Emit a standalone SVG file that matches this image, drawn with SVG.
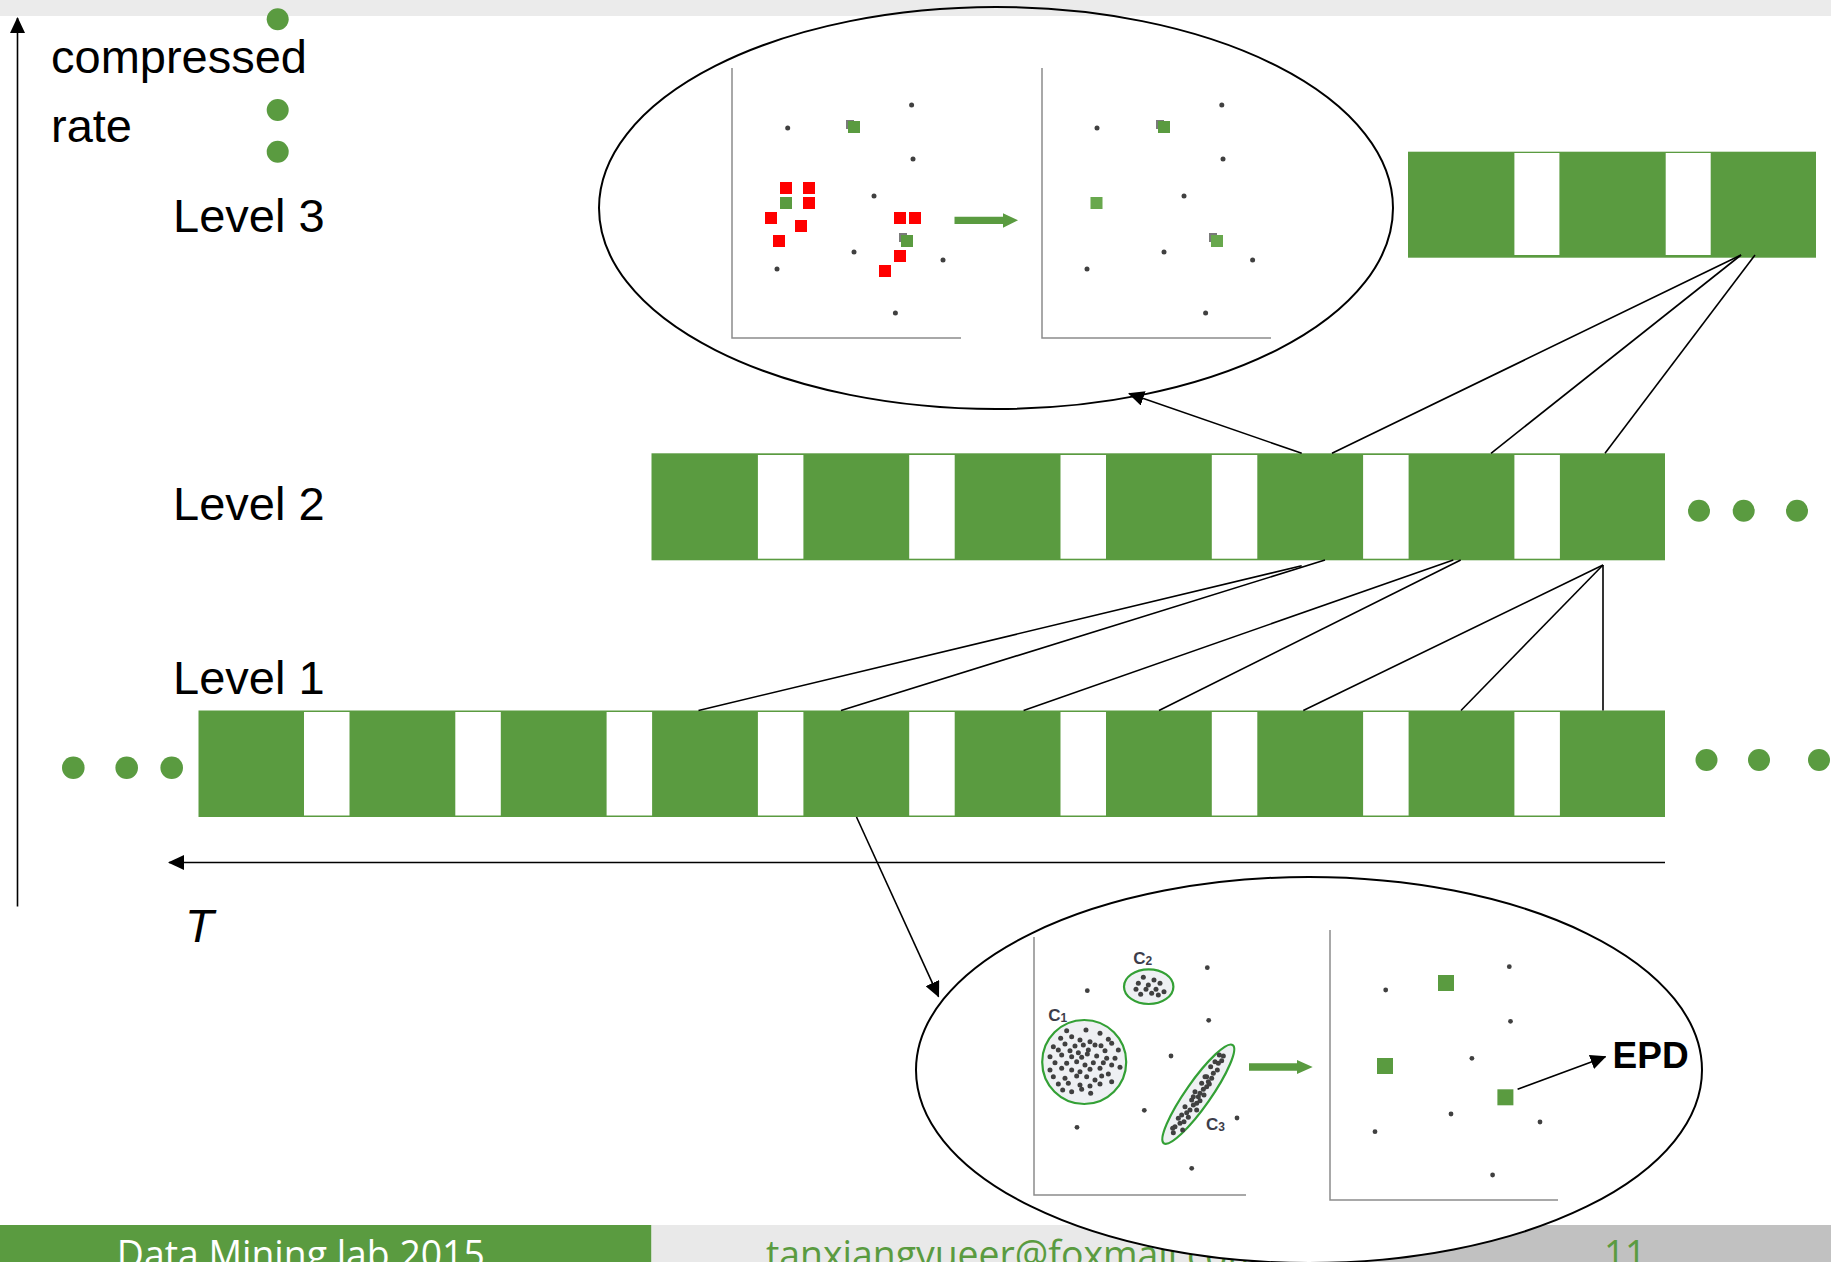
<svg xmlns="http://www.w3.org/2000/svg" width="1831" height="1262" viewBox="0 0 1831 1262">
<defs>
<style>
.lbl{font-family:"Liberation Sans",Arial,sans-serif;font-size:47px;fill:#000}
.bar{fill:#5a9b40}
.gap{fill:#fff}
.gdot{fill:#5a9b40}
.ln{stroke:#000;stroke-width:1.6;fill:none}
.ax{stroke:#8c8c8c;stroke-width:1.5;fill:none}
.d{fill:#404040}
.red{fill:#ff0000}
.gsq{fill:#5a9b40}
.lgsq{fill:#68a84d}
.gray{fill:#7a7a7a}
.oval{stroke:#000;stroke-width:2}
.foot{font-family:"Open Sans","Liberation Sans",sans-serif;font-size:38px}
.cl{font-family:"Liberation Sans",Arial,sans-serif;font-size:17px;font-weight:bold;fill:#3d3d4a}
.clu{fill:#eef0f3;stroke:#33a035;stroke-width:2.2}
</style>
<marker id="ah" viewBox="0 0 16 15" refX="15" refY="7.5" markerWidth="16" markerHeight="15" markerUnits="userSpaceOnUse" orient="auto"><path d="M0,0 L16,7.5 L0,15 z" fill="#000"/></marker>
</defs>
<rect x="0" y="0" width="1831" height="1262" fill="#fff"/>
<rect x="0" y="0" width="1831" height="16" fill="#ebebeb"/>

<g id="footer">
<rect x="0" y="1225" width="651.5" height="37" fill="#5a9b40"/>
<rect x="651.5" y="1225" width="660" height="37" fill="#e9e9e9"/>
<rect x="1311.5" y="1225" width="519.5" height="37" fill="#c1c1c1"/>
<text class="foot" x="116.8" y="1268" fill="#fff" textLength="368" lengthAdjust="spacingAndGlyphs">Data Mining lab 2015</text>
<text class="foot" x="766" y="1268" fill="#5a9b40" textLength="496" lengthAdjust="spacingAndGlyphs">tanxiangyueer@foxmail.com</text>
<text class="foot" x="1604" y="1268" fill="#5a9b40" textLength="42" lengthAdjust="spacingAndGlyphs">11</text>
</g>

<g id="axis-y">
<line class="ln" x1="17.5" y1="906.5" x2="17.5" y2="18" stroke-width="2" marker-end="url(#ah)"/>
<text class="lbl" x="51" y="72.7">compressed</text>
<text class="lbl" x="51" y="141.5">rate</text>
<circle class="gdot" cx="277.7" cy="19.3" r="11"/>
<circle class="gdot" cx="277.7" cy="110" r="11"/>
<circle class="gdot" cx="277.7" cy="151.7" r="11"/>
</g>

<g id="axis-t">
<line class="ln" x1="1665" y1="862.5" x2="169" y2="862.5" stroke-width="2" marker-end="url(#ah)"/>
<text class="lbl" x="185" y="941.7" font-style="italic">T</text>
</g>

<g id="level3">
<text class="lbl" x="173" y="232">Level 3</text>
<rect class="bar" x="1408" y="151.7" width="408" height="106"/>
<rect class="gap" x="1514.4" y="153" width="45" height="102"/>
<rect class="gap" x="1665.7" y="153" width="45" height="102"/>
</g>

<g id="level2">
<text class="lbl" x="173" y="520">Level 2</text>
<rect class="bar" x="651.5" y="453.3" width="1013.5" height="107"/>
<rect class="gap" x="757.9" y="455" width="45.5" height="103.7"/>
<rect class="gap" x="909.2" y="455" width="45.5" height="103.7"/>
<rect class="gap" x="1060.5" y="455" width="45.5" height="103.7"/>
<rect class="gap" x="1211.8" y="455" width="45.5" height="103.7"/>
<rect class="gap" x="1363.1" y="455" width="45.5" height="103.7"/>
<rect class="gap" x="1514.4" y="455" width="45.5" height="103.7"/>
<circle class="gdot" cx="1699" cy="510.7" r="11"/>
<circle class="gdot" cx="1743.7" cy="510.7" r="11"/>
<circle class="gdot" cx="1797" cy="510.7" r="11"/>
</g>

<g id="level1">
<text class="lbl" x="173" y="693.6">Level 1</text>
<rect class="bar" x="198.5" y="710.5" width="1466.5" height="106.5"/>
<rect class="gap" x="304" y="712" width="45.5" height="103.5"/>
<rect class="gap" x="455.3" y="712" width="45.5" height="103.5"/>
<rect class="gap" x="606.6" y="712" width="45.5" height="103.5"/>
<rect class="gap" x="757.9" y="712" width="45.5" height="103.5"/>
<rect class="gap" x="909.2" y="712" width="45.5" height="103.5"/>
<rect class="gap" x="1060.5" y="712" width="45.5" height="103.5"/>
<rect class="gap" x="1211.8" y="712" width="45.5" height="103.5"/>
<rect class="gap" x="1363.1" y="712" width="45.5" height="103.5"/>
<rect class="gap" x="1514.4" y="712" width="45.5" height="103.5"/>
<circle class="gdot" cx="73.3" cy="767.7" r="11.3"/>
<circle class="gdot" cx="126.7" cy="767.7" r="11.3"/>
<circle class="gdot" cx="171.7" cy="767.7" r="11.3"/>
<circle class="gdot" cx="1706.5" cy="760" r="11"/>
<circle class="gdot" cx="1759" cy="760" r="11"/>
<circle class="gdot" cx="1819" cy="760" r="11"/>
</g>

<g id="zoom-top">
<ellipse class="oval" cx="996" cy="208" rx="397" ry="201" fill="none"/>
<path class="ax" d="M732,68 V338 H961"/>
<path class="ax" d="M1042,68 V338 H1271"/>
<circle class="d" cx="911.6" cy="105" r="2.5"/>
<circle class="d" cx="787.7" cy="128" r="2.5"/>
<circle class="d" cx="913" cy="159" r="2.5"/>
<circle class="d" cx="874" cy="196" r="2.5"/>
<circle class="d" cx="854" cy="252" r="2.5"/>
<circle class="d" cx="943" cy="260" r="2.5"/>
<circle class="d" cx="777" cy="269" r="2.5"/>
<circle class="d" cx="895.4" cy="313" r="2.5"/>
<rect class="gray" x="846" y="120" width="8" height="9"/>
<rect class="gsq" x="848" y="121" width="12" height="12"/>
<rect class="gsq" x="780" y="197" width="12" height="12"/>
<rect class="gray" x="899" y="233" width="8" height="9"/>
<rect class="gsq" x="901" y="235" width="12" height="12"/>
<rect class="red" x="780" y="182" width="12" height="12"/>
<rect class="red" x="803" y="182" width="12" height="12"/>
<rect class="red" x="803" y="197" width="12" height="12"/>
<rect class="red" x="765" y="212" width="12" height="12"/>
<rect class="red" x="795" y="220" width="12" height="12"/>
<rect class="red" x="773" y="235" width="12" height="12"/>
<rect class="red" x="894" y="212" width="12" height="12"/>
<rect class="red" x="909" y="212" width="12" height="12"/>
<rect class="red" x="894" y="250" width="12" height="12"/>
<rect class="red" x="879" y="265" width="12" height="12"/>
<path class="gsq" d="M954.5,216.7 H1003 V213.3 L1018,220.3 L1003,227.7 V224 H954.5 Z"/>
<circle class="d" cx="1221.8" cy="105" r="2.5"/>
<circle class="d" cx="1097" cy="128" r="2.5"/>
<circle class="d" cx="1223" cy="159" r="2.5"/>
<circle class="d" cx="1184" cy="196" r="2.5"/>
<circle class="d" cx="1164" cy="252" r="2.5"/>
<circle class="d" cx="1252.6" cy="260" r="2.5"/>
<circle class="d" cx="1087" cy="269" r="2.5"/>
<circle class="d" cx="1205.6" cy="313" r="2.5"/>
<rect class="gray" x="1156" y="120" width="8" height="9"/>
<rect class="gsq" x="1158" y="121" width="12" height="12"/>
<rect class="lgsq" x="1090.5" y="197" width="12" height="12"/>
<rect class="gray" x="1209" y="233" width="8" height="9"/>
<rect class="lgsq" x="1211" y="235" width="12" height="12"/>
</g>

<g id="zoom-bottom">
<ellipse class="oval" cx="1309" cy="1070" rx="393" ry="193" fill="#fff"/>
<path class="ax" d="M1034,937 V1195 H1246"/>
<path class="ax" d="M1330,930 V1200 H1558"/>
<circle class="clu" cx="1084.2" cy="1062" r="42"/>
<ellipse class="clu" cx="1148.7" cy="986.7" rx="24.7" ry="17.3"/>
<ellipse class="clu" cx="1198.3" cy="1094.2" rx="60" ry="12.5" transform="rotate(-55 1198.3 1094.2)"/>
<g transform="translate(1000,930) scale(0.33333)">
<g class="d">
<circle cx="200" cy="302" r="7.5"/><circle cx="258" cy="300" r="7.5"/><circle cx="300" cy="310" r="7.5"/>
<circle cx="182" cy="325" r="7.5"/><circle cx="215" cy="320" r="7.5"/><circle cx="240" cy="330" r="7.5"/><circle cx="270" cy="335" r="7.5"/><circle cx="325" cy="328" r="7.5"/>
<circle cx="160" cy="350" r="7.5"/><circle cx="195" cy="342" r="7.5"/><circle cx="225" cy="348" r="7.5"/><circle cx="250" cy="345" r="7.5"/><circle cx="285" cy="345" r="7.5"/><circle cx="303" cy="347" r="7.5"/><circle cx="335" cy="340" r="7.5"/>
<circle cx="175" cy="360" r="7.5"/><circle cx="210" cy="362" r="7.5"/><circle cx="235" cy="368" r="7.5"/><circle cx="265" cy="360" r="7.5"/><circle cx="315" cy="362" r="7.5"/><circle cx="355" cy="360" r="7.5"/>
<circle cx="150" cy="380" r="7.5"/><circle cx="185" cy="375" r="7.5"/><circle cx="215" cy="380" r="7.5"/><circle cx="245" cy="382" r="7.5"/><circle cx="262" cy="372" r="7.5"/><circle cx="290" cy="378" r="7.5"/><circle cx="320" cy="385" r="7.5"/><circle cx="345" cy="385" r="7.5"/>
<circle cx="165" cy="398" r="7.5"/><circle cx="200" cy="400" r="7.5"/><circle cx="230" cy="395" r="7.5"/><circle cx="255" cy="405" r="7.5"/><circle cx="280" cy="398" r="7.5"/><circle cx="310" cy="398" r="7.5"/><circle cx="335" cy="405" r="7.5"/><circle cx="360" cy="412" r="7.5"/>
<circle cx="150" cy="420" r="7.5"/><circle cx="185" cy="415" r="7.5"/><circle cx="215" cy="420" r="7.5"/><circle cx="240" cy="425" r="7.5"/><circle cx="270" cy="418" r="7.5"/><circle cx="300" cy="415" r="7.5"/><circle cx="325" cy="432" r="7.5"/>
<circle cx="160" cy="440" r="7.5"/><circle cx="195" cy="445" r="7.5"/><circle cx="230" cy="438" r="7.5"/><circle cx="260" cy="440" r="7.5"/><circle cx="285" cy="450" r="7.5"/><circle cx="305" cy="438" r="7.5"/><circle cx="335" cy="455" r="7.5"/>
<circle cx="175" cy="462" r="7.5"/><circle cx="205" cy="460" r="7.5"/><circle cx="240" cy="465" r="7.5"/><circle cx="270" cy="468" r="7.5"/><circle cx="300" cy="462" r="7.5"/>
<circle cx="188" cy="480" r="7.5"/><circle cx="215" cy="485" r="7.5"/><circle cx="245" cy="478" r="7.5"/><circle cx="272" cy="490" r="7.5"/>
<circle cx="430" cy="142" r="7.5"/><circle cx="462" cy="150" r="7.5"/><circle cx="415" cy="160" r="7.5"/><circle cx="445" cy="165" r="7.5"/><circle cx="480" cy="160" r="7.5"/><circle cx="408" cy="178" r="7.5"/><circle cx="438" cy="178" r="7.5"/><circle cx="468" cy="178" r="7.5"/><circle cx="422" cy="193" r="7.5"/><circle cx="455" cy="190" r="7.5"/><circle cx="492" cy="185" r="7.5"/><circle cx="475" cy="195" r="7.5"/>
<circle cx="520" cy="608" r="7.5"/><circle cx="525" cy="590" r="7.5"/><circle cx="540" cy="580" r="7.5"/><circle cx="552" cy="575" r="7.5"/><circle cx="518" cy="595" r="7.5"/><circle cx="545" cy="555" r="7.5"/><circle cx="560" cy="548" r="7.5"/><circle cx="570" cy="540" r="7.5"/><circle cx="555" cy="530" r="7.5"/><circle cx="580" cy="525" r="7.5"/><circle cx="590" cy="520" r="7.5"/><circle cx="575" cy="510" r="7.5"/><circle cx="595" cy="500" r="7.5"/><circle cx="600" cy="490" r="7.5"/><circle cx="585" cy="485" r="7.5"/><circle cx="610" cy="478" r="7.5"/><circle cx="620" cy="470" r="7.5"/><circle cx="605" cy="460" r="7.5"/><circle cx="625" cy="455" r="7.5"/><circle cx="635" cy="445" r="7.5"/><circle cx="620" cy="440" r="7.5"/><circle cx="640" cy="430" r="7.5"/><circle cx="652" cy="420" r="7.5"/><circle cx="632" cy="410" r="7.5"/><circle cx="655" cy="400" r="7.5"/><circle cx="665" cy="392" r="7.5"/><circle cx="645" cy="395" r="7.5"/><circle cx="670" cy="378" r="7.5"/><circle cx="658" cy="375" r="7.5"/><circle cx="600" cy="512" r="7.5"/><circle cx="565" cy="562" r="7.5"/><circle cx="590" cy="540" r="7.5"/><circle cx="612" cy="495" r="7.5"/><circle cx="628" cy="462" r="7.5"/><circle cx="548" cy="600" r="7.5"/><circle cx="535" cy="565" r="7.5"/><circle cx="580" cy="500" r="7.5"/><circle cx="615" cy="440" r="7.5"/>
</g>
</g>
<text class="cl" x="1048.3" y="1020.7">C<tspan font-size="12" dy="1">1</tspan></text>
<text class="cl" x="1133.3" y="964.3">C<tspan font-size="12" dy="1">2</tspan></text>
<text class="cl" x="1206" y="1130">C<tspan font-size="12" dy="1">3</tspan></text>
<circle class="d" cx="1207.3" cy="967.7" r="2.4"/>
<circle class="d" cx="1087.3" cy="990.7" r="2.4"/>
<circle class="d" cx="1208.7" cy="1020.3" r="2.4"/>
<circle class="d" cx="1171" cy="1056" r="2.4"/>
<circle class="d" cx="1144.3" cy="1110.3" r="2.4"/>
<circle class="d" cx="1237" cy="1118" r="2.4"/>
<circle class="d" cx="1077" cy="1127.3" r="2.4"/>
<circle class="d" cx="1191.7" cy="1168.3" r="2.4"/>
<path class="gsq" d="M1249,1063.3 H1297 V1060 L1312.7,1067 L1297,1074 V1070.7 H1249 Z"/>
<circle class="d" cx="1509.3" cy="966.7" r="2.4"/>
<circle class="d" cx="1385.7" cy="990" r="2.4"/>
<circle class="d" cx="1510.5" cy="1021.3" r="2.4"/>
<circle class="d" cx="1471.9" cy="1058.3" r="2.4"/>
<circle class="d" cx="1451" cy="1114" r="2.4"/>
<circle class="d" cx="1540" cy="1122" r="2.4"/>
<circle class="d" cx="1375" cy="1131.7" r="2.4"/>
<circle class="d" cx="1492.6" cy="1175" r="2.4"/>
<rect class="gsq" x="1438" y="975" width="16" height="16"/>
<rect class="gsq" x="1377" y="1058" width="16" height="16"/>
<rect class="gsq" x="1497.4" y="1089.3" width="16" height="16"/>
<text x="1612.6" y="1068.3" font-family="Liberation Sans, Arial, sans-serif" font-size="37" font-weight="bold" fill="#000">EPD</text>
</g>

<g id="connectors">
<line class="ln" x1="1741" y1="255" x2="1332" y2="453.3"/>
<line class="ln" x1="1741" y1="255" x2="1491" y2="453.3"/>
<line class="ln" x1="1755" y1="255" x2="1605" y2="453.3"/>
<line class="ln" x1="1301.7" y1="453.3" x2="1129" y2="393.5" stroke-width="2" marker-end="url(#ah)"/>
<line class="ln" x1="1301.7" y1="565.7" x2="698.5" y2="710.5"/>
<line class="ln" x1="1325" y1="560" x2="841" y2="710.5"/>
<line class="ln" x1="1453.3" y1="560" x2="1023.6" y2="710.5"/>
<line class="ln" x1="1460.7" y1="560" x2="1159" y2="710.5"/>
<line class="ln" x1="1603" y1="565" x2="1303.3" y2="710.5"/>
<line class="ln" x1="1603" y1="565" x2="1461" y2="710.5"/>
<line class="ln" x1="1603" y1="565" x2="1603" y2="710.5" stroke-width="1.2"/>
<line class="ln" x1="856.5" y1="817" x2="938.6" y2="996.7" stroke-width="1.8" marker-end="url(#ah)"/>
<line class="ln" x1="1517.6" y1="1089.3" x2="1605.5" y2="1056.7" stroke-width="2" marker-end="url(#ah)"/>
</g>
</svg>
